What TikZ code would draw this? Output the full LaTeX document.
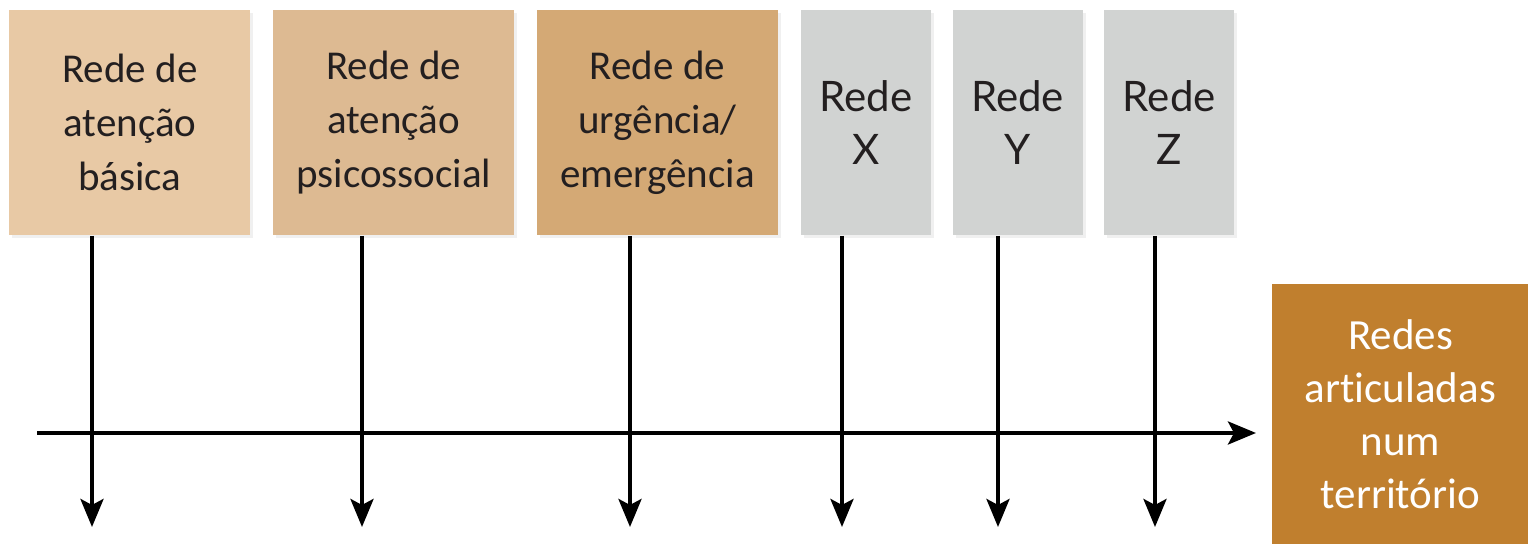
\documentclass[tikz,border=0pt]{standalone}
\usepackage{fontspec}
\setmainfont[Ligatures=NoCommon]{Carlito}
\newfontfamily\redefont{Lato}
\usetikzlibrary{arrows.meta}
\usetikzlibrary{positioning,shadows}

\definecolor{basica}{HTML}{E8C9A5}
\definecolor{psico}{HTML}{DDBA92}
\definecolor{urgencia}{HTML}{D4A975}
\definecolor{cinza}{HTML}{D1D3D2}
\definecolor{territorio}{HTML}{C07F2E}
\definecolor{texto}{HTML}{231F20}

\begin{document}
\begin{tikzpicture}[x=0.5pt, y=-0.5pt, >={Stealth[length=14pt, width=11.5pt, inset=3pt]}, node distance=11pt]
		 \tikzstyle{rede} = [inner sep=0pt, align=center, text=texto, minimum height=112.5pt,
		                     drop shadow={opacity=0.12, shadow xshift=1.5pt, shadow yshift=-1.5pt}]
		 \tikzstyle{larga} = [rede, minimum width=120.5pt, font=\fontsize{20.5}{27}\selectfont]
		 \tikzstyle{estreita} = [rede, minimum width=65pt, fill=cinza, font=\redefont\fontsize{21}{26.5}\selectfont]
		 \tikzstyle{seta} = [->, line width=2pt]

		 \useasboundingbox (0,0) rectangle (1528,544);

		 \node [larga, fill=basica, anchor=north west] (basica) at (9,10) {Rede de\\atenção\\básica};
		 \node [larga, fill=psico]       (psico)    [right = of basica]   {Rede de\\atenção\\psicossocial};
		 \node [larga, fill=urgencia]    (urgencia) [right = of psico]    {Rede de\\urgência/\\emergência};
		 \node [estreita]                (redex)    [right = of urgencia] {Rede\\X};
		 \node [estreita]                (redey)    [right = 10.5pt of redex] {Rede\\Y};
		 \node [estreita]                (redez)    [right = 10.5pt of redey] {Rede\\Z};

		 \node [rede, fill=territorio, text=white, minimum width=128pt, minimum height=130pt,
		        font=\fontsize{21.5}{26.5}\selectfont, anchor=north west] (articuladas) at (1272,284)
		       {Redes\\articuladas\\num\\território};

		 % setas de cada rede
		 \foreach \n/\x in {basica/92, psico/362, urgencia/630, redex/842, redey/998, redez/1155} {
		   \coordinate (fim-\n) at (\x,527);
		   \draw [seta] (\n.south -| fim-\n) -- (fim-\n);
		 }

		 % eixo do territorio
		 \coordinate (inicio) at (37,433);
		 \draw [seta] (inicio) -- ([xshift=-8pt]articuladas.west |- inicio);
	\end{tikzpicture}
\end{document}
